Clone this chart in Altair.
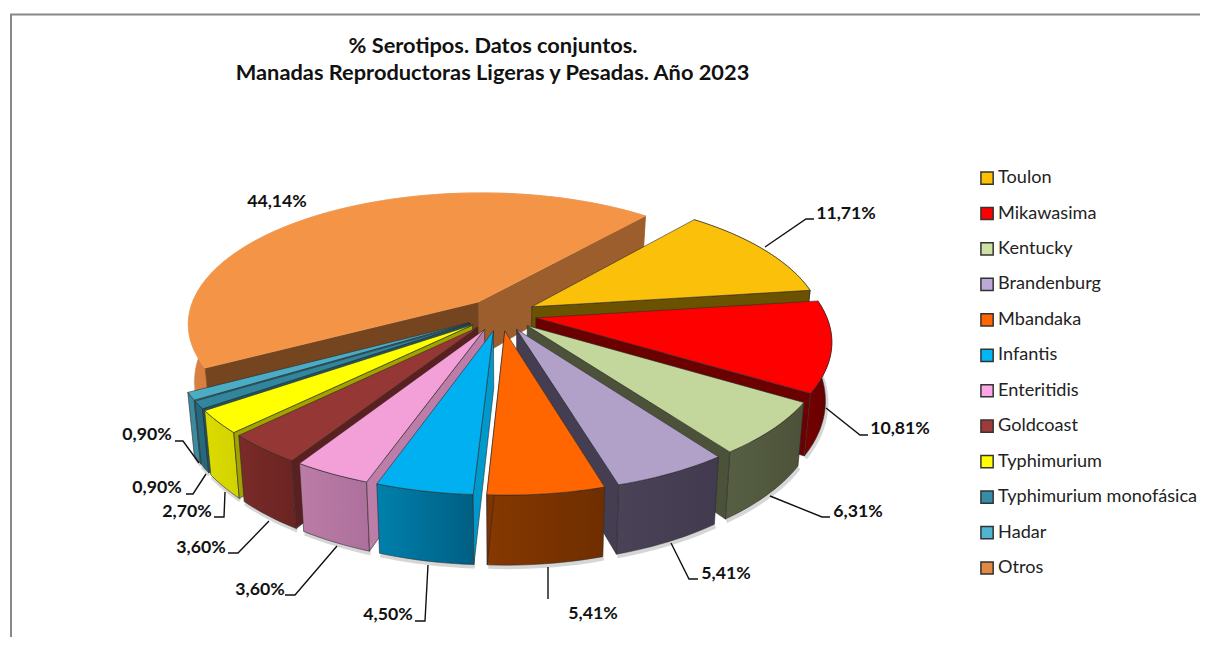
import math
import altair as alt
import pandas as pd

# ---- chart values ----
categories = ["Toulon", "Mikawasima", "Kentucky", "Brandenburg", "Mbandaka", "Infantis",
              "Enteritidis", "Goldcoast", "Typhimurium", "Typhimurium monofásica", "Hadar", "Otros"]
values = [11.71, 10.81, 6.31, 5.41, 5.41, 4.50, 3.60, 3.60, 2.70, 0.90, 0.90, 44.14]
value_labels = ["11,71%", "10,81%", "6,31%", "5,41%", "5,41%", "4,50%",
                "3,60%", "3,60%", "2,70%", "0,90%", "0,90%", "44,14%"]
top_colors = ["#FBC00A", "#FF0000", "#C3D69B", "#B1A0C7", "#FF6600", "#00B0F0",
              "#F4A0D8", "#953735", "#FFFF00", "#31859C", "#4BACC6", "#F39446"]
wall_colors = [("#6b5200", "#6b5200"), ("#7a0000", "#5e0000"), ("#565f43", "#4c5239"),
               ("#4a4256", "#423a4e"), ("#863800", "#6f2e00"), ("#0080ad", "#005f82"),
               ("#bb7ca8", "#ad6f9b"), ("#7a2b29", "#6a2422"), ("#dcdc00", "#d2d200"),
               ("#27697c", "#27697c"), ("#3c8aa0", "#3c8aa0"), ("#d98040", "#c77435")]
face_colors = ["#6b5200", "#6b0000", "#4c5239", "#453d52", "#7e3300", "#0099cc",
               "#bd7da9", "#5c1f1f", "#a3a300", "#1f5566", "#2f7d92", "#74451f"]
legend_colors = ["#FFC000", "#FF0000", "#CFE2A5", "#BDA9D6", "#FF6600", "#00B6F5",
                 "#FFA6E6", "#9E3A38", "#FFFF00", "#388DA6", "#4FB5D0", "#E08A45"]
title_lines = ["% Serotipos. Datos conjuntos.", "Manadas Reproductoras Ligeras y Pesadas. Año 2023"]

# ---- layout of the drawing (projection of the tilted pie) ----
FONT = "Lato"
W, H = 1192, 629
CX, CY, RX, RY, K, KX = 500.5, 314.5, 290, 131, 0.165, 0.16
EXPLODE, START = 0.124, 40.3


def project(X, Y, bottom=False):
    x = CX + RX * X / (1 + KX * Y)
    y = CY - RY * Y / (1 + K * Y)
    if bottom:
        x = 510 + (x - 510) * 0.98
        y += 56 - 12.5 * Y
    return x, y


def arc_angles(a, b):
    n = max(2, int(abs(b - a) / 1.5))
    return [a + (b - a) * i / n for i in range(n + 1)]


x_scale = alt.Scale(domain=[8, 8 + W])
y_scale = alt.Scale(domain=[8 + H, 8])


def polygon(points, fill, stroke=None, width=0.7):
    pts = list(points) + [points[0]]
    df = pd.DataFrame({"x": [p[0] for p in pts], "y": [p[1] for p in pts], "i": range(len(pts))})
    return alt.Chart(df).mark_line(
        fill=fill, stroke=stroke or fill, strokeWidth=width, strokeJoin="round", interpolate="linear"
    ).encode(
        x=alt.X("x:Q", scale=x_scale, axis=None),
        y=alt.Y("y:Q", scale=y_scale, axis=None),
        order="i:Q",
    )


def shadow(points):
    df = pd.DataFrame({"x": [p[0] + 1 for p in points], "y": [p[1] + 2 for p in points], "i": range(len(points))})
    return alt.Chart(df).mark_line(color="#777777", strokeWidth=4, opacity=0.3).encode(
        x=alt.X("x:Q", scale=x_scale, axis=None),
        y=alt.Y("y:Q", scale=y_scale, axis=None),
        order="i:Q",
    )


def grad(c1, c2):
    return alt.Gradient(gradient="linear", x1=0, y1=0, x2=1, y2=0,
                        stops=[alt.GradientStop(color=c1, offset=0), alt.GradientStop(color=c2, offset=1)])


# slices, clockwise from the top
total = sum(values)
slices = []
a = START
for i, v in enumerate(values):
    b = a + v * 360 / total
    slices.append((a, b))
    a = b
# the last slice (Otros) closes the circle: run it backwards from the start
slices[-1] = (START - values[-1] * 360 / total, START)


def slice_layers(i):
    a, b = slices[i]
    m = math.radians((a + b) / 2)
    ox, oy = EXPLODE * math.sin(m), EXPLODE * math.cos(m)
    pt = lambda ang: (ox + math.sin(math.radians(ang)), oy + math.cos(math.radians(ang)))
    out = []
    edge = "#2b2b2b" if i != 11 else None

    def face(ang, color):
        P = pt(ang)
        return polygon([project(ox, oy), project(*P), project(*P, bottom=True), project(ox, oy, bottom=True)],
                       color, edge, 0.6)

    # outer wall: only the part that faces the viewer
    wall_end = min(b, 285) if i == 11 else b
    wall_angs = arc_angles(a, wall_end)
    wtop = [project(*pt(t)) for t in wall_angs]
    wbot = [project(*pt(t), bottom=True) for t in reversed(wall_angs)]
    out.append(shadow(wbot))
    out.append(polygon(wtop + wbot, grad(*wall_colors[i]), edge, 0.6))
    # radial faces
    if i == 11:
        out.append(face(b, "#9C5E2C"))
        out.append(face(a, face_colors[i]))
    elif (a + b) / 2 < 180:
        out.append(face(b, face_colors[i]))
    else:
        out.append(face(a, face_colors[i]))
    # top surface
    top = [project(*pt(t)) for t in arc_angles(a, b)]
    out.append(polygon([project(ox, oy)] + top, top_colors[i], edge if i != 11 else "#F7A35C", 0.6))
    return out


paint_order = [11, 0, 1, 2, 3, 10, 9, 8, 7, 6, 5, 4]
layers = []

# frame of the chart
frame = pd.DataFrame({"x": [11, 11, 1200], "y": [637, 14.5, 14.5], "i": [0, 1, 2]})
layers.append(alt.Chart(frame).mark_line(color="#888888", strokeWidth=2).encode(
    x=alt.X("x:Q", scale=x_scale, axis=None), y=alt.Y("y:Q", scale=y_scale, axis=None), order="i:Q"))

for i in paint_order:
    layers.extend(slice_layers(i))

# leader lines, same order as the categories (Otros has none)
leaders = [
    [(765, 247), (806, 219), (814, 219)],
    [(826, 408), (860, 435), (868, 435)],
    [(770, 496), (822, 517), (830, 517)],
    [(671, 543), (689, 579), (698, 579)],
    [(548, 567), (548, 599)],
    [(428, 565), (425, 621), (415, 621)],
    [(337, 546), (295, 595), (285, 595)],
    [(269, 521), (238, 553), (228, 553)],
    [(225, 492), (224, 517), (214, 517)],
    [(206, 474), (193, 494), (186, 494)],
    [(199, 463), (183, 441), (175, 441)],
]
rows = []
for k, line in enumerate(leaders):
    for j, (lx, ly) in enumerate(line):
        rows.append({"k": k, "i": j, "x": lx, "y": ly})
layers.append(alt.Chart(pd.DataFrame(rows)).mark_line(color="#111111", strokeWidth=1.4).encode(
    x=alt.X("x:Q", scale=x_scale, axis=None), y=alt.Y("y:Q", scale=y_scale, axis=None),
    detail="k:N", order="i:Q"))

label_x = [846, 900, 858, 726, 593, 388, 260, 201, 187, 157, 147, 277]
label_y = [214, 429, 512, 574, 614, 615, 590, 548, 512, 488, 435, 202]
labels_df = pd.DataFrame({"x": label_x, "y": label_y, "t": value_labels})
layers.append(alt.Chart(labels_df).mark_text(font=FONT, fontSize=17.7, fontWeight="bold", color="#111111").encode(
    x=alt.X("x:Q", scale=x_scale, axis=None), y=alt.Y("y:Q", scale=y_scale, axis=None), text="t:N"))

title_df = pd.DataFrame({"x": [493, 492.5], "y": [46, 73], "t": title_lines})
layers.append(alt.Chart(title_df).mark_text(font=FONT, fontSize=21.8, fontWeight="bold", color="#111111").encode(
    x=alt.X("x:Q", scale=x_scale, axis=None), y=alt.Y("y:Q", scale=y_scale, axis=None), text="t:N"))

# legend
legend_df = pd.DataFrame({"c": categories, "x": [0] * 12, "y": [0] * 12})
layers.append(alt.Chart(legend_df).mark_square(size=0).encode(
    x=alt.X("x:Q", scale=x_scale, axis=None), y=alt.Y("y:Q", scale=y_scale, axis=None),
    color=alt.Color("c:N", scale=alt.Scale(domain=categories, range=legend_colors), sort=categories,
                    legend=alt.Legend(title=None, orient="none", legendX=970, legendY=161,
                                      symbolType="square", symbolSize=150, symbolStrokeColor="#333333",
                                      symbolStrokeWidth=1.5, symbolOpacity=1, labelFont=FONT, labelFontSize=18.1,
                                      labelColor="#222222", rowPadding=15.45, labelOffset=2, labelLimit=260,
                                      padding=0))))

chart = alt.layer(*layers).resolve_scale(color="independent").properties(
    width=W, height=H, padding=0,
    autosize=alt.AutoSizeParams(type="none", contains="padding"),
    background="white",
).configure_view(stroke=None)

chart.save("out.html", embed_options={"renderer": "svg", "actions": False})
